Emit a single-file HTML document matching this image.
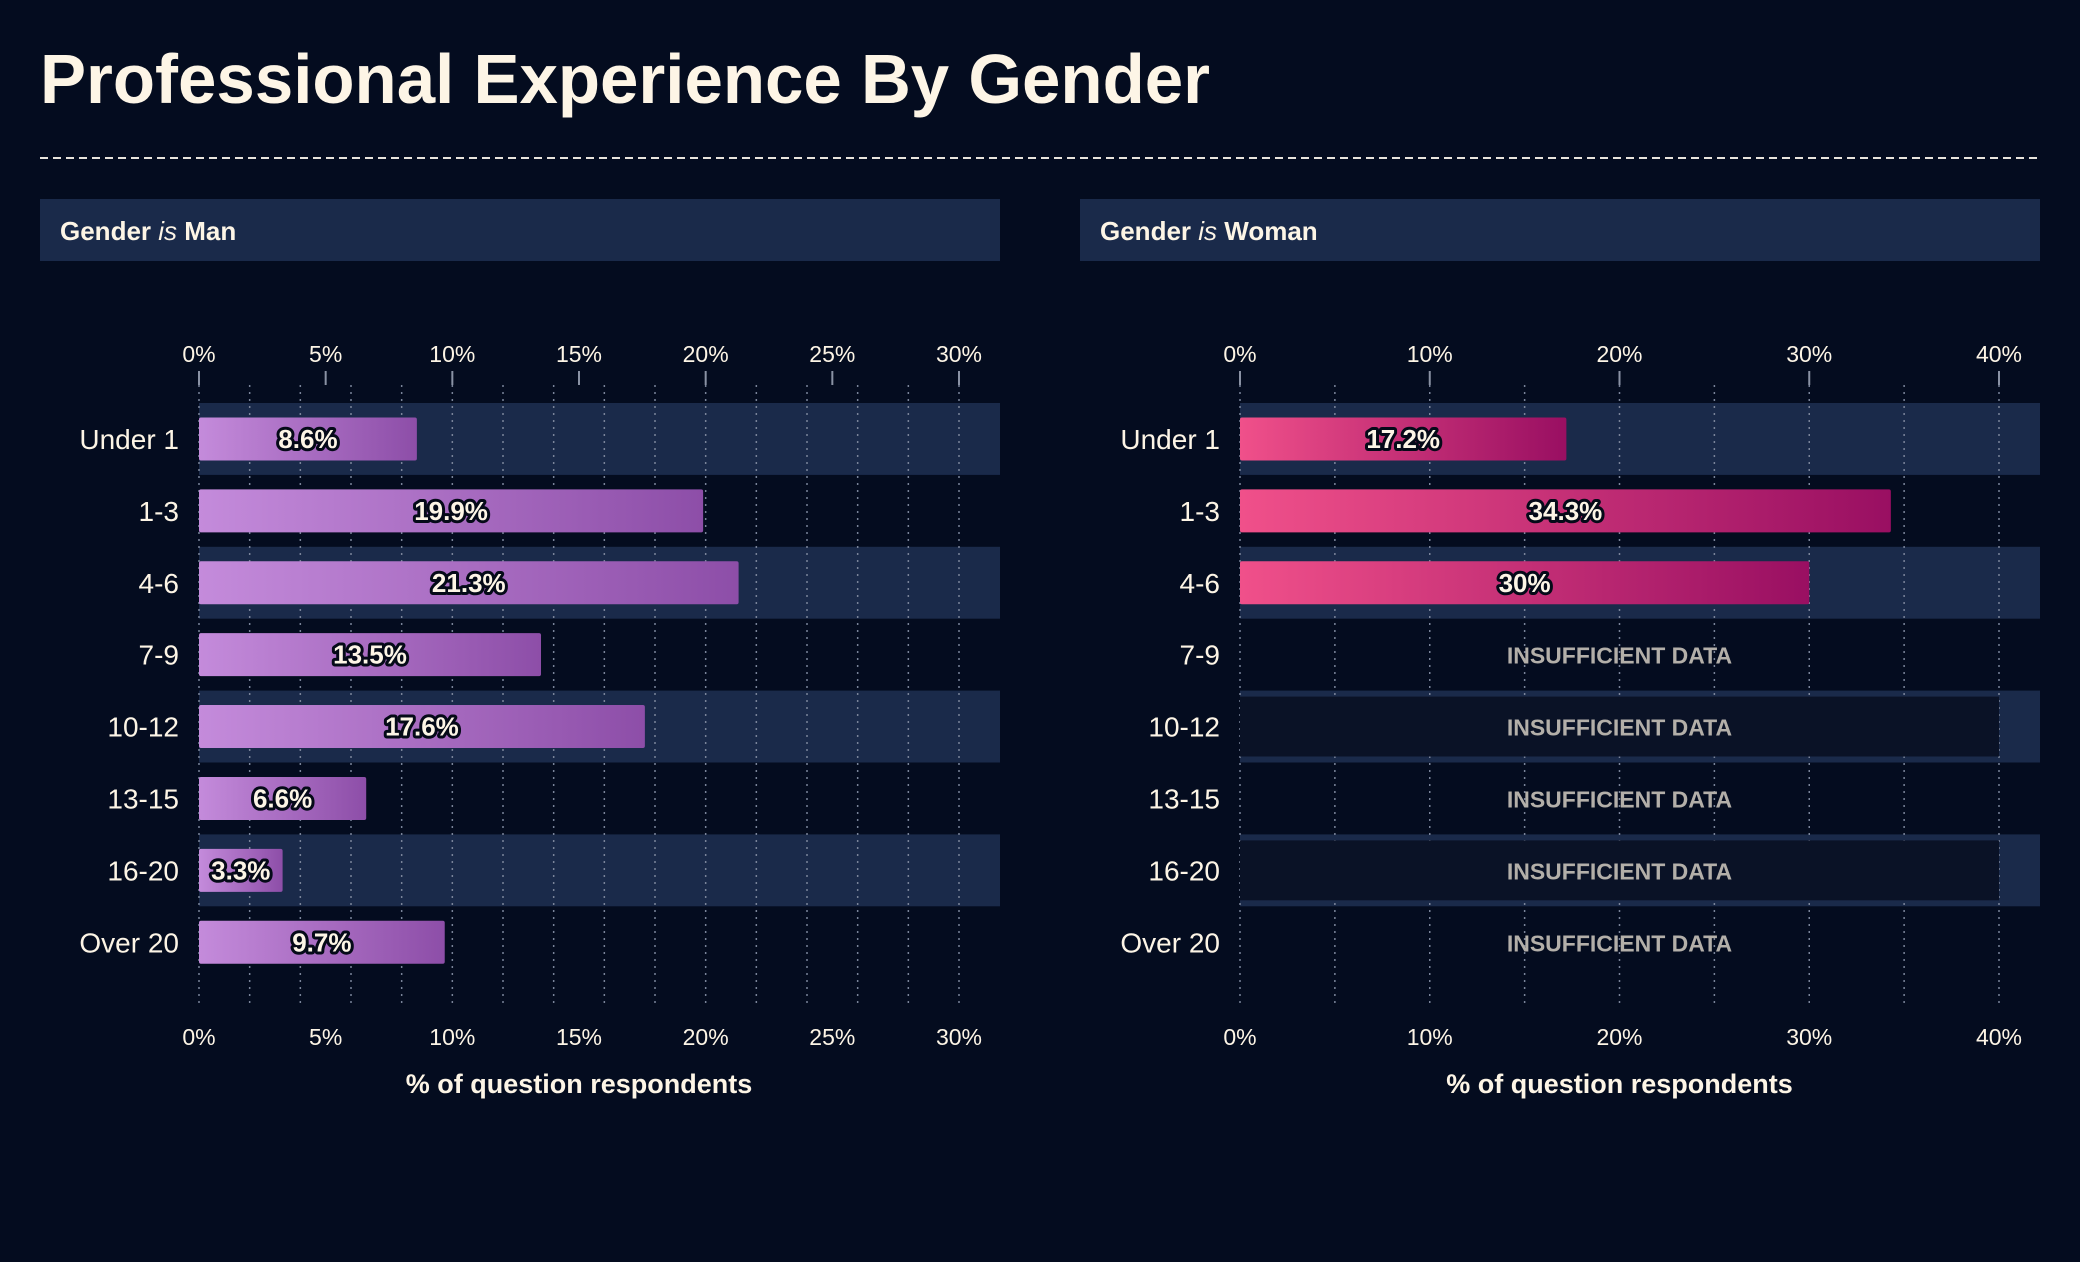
<!DOCTYPE html>
<html><head><meta charset="utf-8"><style>
html,body{margin:0;padding:0;background:#040c1f;}
svg{display:block;font-family:"Liberation Sans",sans-serif;}
</style></head><body>
<svg id="chart" width="2080" height="1262" viewBox="0 0 2080 1262" xmlns="http://www.w3.org/2000/svg">
<defs>
<linearGradient id="gMan" x1="0" x2="1" y1="0" y2="0"><stop offset="0" stop-color="#c48bdb"/><stop offset="1" stop-color="#8d4ea8"/></linearGradient>
<linearGradient id="gWoman" x1="0" x2="1" y1="0" y2="0"><stop offset="0" stop-color="#f0508a"/><stop offset="1" stop-color="#990f62"/></linearGradient>
</defs>
<rect x="0" y="0" width="2080" height="1262" fill="#040c1f"/>
<text x="40" y="103" font-size="70" font-weight="bold" fill="#fdf5e6" textLength="1170" lengthAdjust="spacingAndGlyphs">Professional Experience By Gender</text>
<line x1="40" y1="158" x2="2040" y2="158" stroke="#e8e4dc" stroke-width="2" stroke-dasharray="8,5"/>
<g id="panels"></g>
</svg>
<script>
const categories = ["Under 1","1-3","4-6","7-9","10-12","13-15","16-20","Over 20"];
const manValues = [8.6,19.9,21.3,13.5,17.6,6.6,3.3,9.7];
const manLabels = ["8.6%","19.9%","21.3%","13.5%","17.6%","6.6%","3.3%","9.7%"];
const womanValues = [17.2,34.3,30,null,null,null,null,null];
const womanLabels = ["17.2%","34.3%","30%","","","","",""];
const manTicks = [0,5,10,15,20,25,30];
const womanTicks = [0,10,20,30,40];

const NS="http://www.w3.org/2000/svg";
const root=document.getElementById('panels');
function mk(tag,attrs,parent,txt){const e=document.createElementNS(NS,tag);for(const k in attrs)e.setAttribute(k,attrs[k]);if(txt!==undefined)e.textContent=txt;(parent||root).appendChild(e);return e;}

function panel(cfg){
  const g=mk('g',{});
  
  
  const hdr=mk('rect',{x:cfg.left,y:199,width:960,height:62,fill:'#1a2a4a'},g);
  
  
  const ht=mk('text',{x:cfg.left+20,y:240,'font-size':26,'font-weight':'bold',fill:'#fdf5e6'},g);
  
  
  mk('tspan',{},ht,'Gender ');
  mk('tspan',{'font-style':'italic','font-weight':'normal'},ht,'is');
  mk('tspan',{},ht,' '+cfg.title);
  const x0=cfg.x0, w=cfg.x1-cfg.x0;
  const xs=v=>x0+v/cfg.max*w;
  const rowY=i=>403+i*71.9;
  const rowH=71.9;
  categories.forEach((c,i)=>{
    if(i%2===0){
      const b=mk('rect',{x:x0,y:rowY(i),width:1000+cfg.left-40-x0,height:rowH,fill:'#1a2a4a'},g);
      
      
    }
  });
  for(let v=0; v<=cfg.gridMax+1e-9; v+=cfg.gridStep){
    const gl=mk('line',{x1:xs(v),x2:xs(v),y1:385,y2:1008,stroke:'#7a849a','stroke-width':1.5,'stroke-dasharray':'2,5'},g);
    
    
  }
  cfg.ticks.forEach(t=>{
    const x=xs(t);
    const tm=mk('line',{x1:x,x2:x,y1:371,y2:385,stroke:'#8a92a4','stroke-width':2},g);
    
    
    const tt=mk('text',{x:x,y:362,'font-size':23,fill:'#fdf5e6','text-anchor':'middle'},g,t+'%');
    
    
    const tb=mk('text',{x:x,y:1045,'font-size':23,fill:'#fdf5e6','text-anchor':'middle'},g,t+'%');
    
    
  });
  categories.forEach((c,i)=>{
    const cy=rowY(i)+rowH/2;
    const lab=mk('text',{x:x0-20,y:cy+10,'font-size':28,fill:'#fdf5e6','text-anchor':'end'},g,c);
    
    
    const v=cfg.values[i];
    if(v===null){
      if(i%2===0){
        const ir=mk('rect',{x:x0,y:rowY(i)+6,width:xs(40)-x0,height:rowH-12,fill:'#0a1226'},g);
        
        
      }
      const it=mk('text',{x:xs(20),y:cy+9,'font-size':23,'font-weight':'bold',fill:'#b3afa9','text-anchor':'middle'},g,'INSUFFICIENT DATA');
      
      
    } else {
      const bar=mk('rect',{x:x0,y:cy-21.5,width:xs(v)-x0,height:43,fill:cfg.grad,rx:2},g);
      
      
      const vl=mk('text',{x:(x0+xs(v))/2,y:cy+9,'font-size':26,'font-weight':'bold',fill:'#fdf5e6','text-anchor':'middle',stroke:'#050a18','stroke-width':6,'stroke-linejoin':'round','paint-order':'stroke'},g,cfg.labels[i]);
      
      
    }
  });
  const at=mk('text',{x:(x0+cfg.x1)/2,y:1093,'font-size':27,'font-weight':'bold',fill:'#fdf5e6','text-anchor':'middle'},g,'% of question respondents');
  
  
}
panel({name:'man',title:'Man',left:40,x0:199,x1:959,max:30,ticks:manTicks,gridStep:2,gridMax:31,values:manValues,labels:manLabels,grad:'url(#gMan)'});
panel({name:'woman',title:'Woman',left:1080,x0:1240,x1:1999,max:40,ticks:womanTicks,gridStep:5,gridMax:40,values:womanValues,labels:womanLabels,grad:'url(#gWoman)'});
</script>
</body></html>
